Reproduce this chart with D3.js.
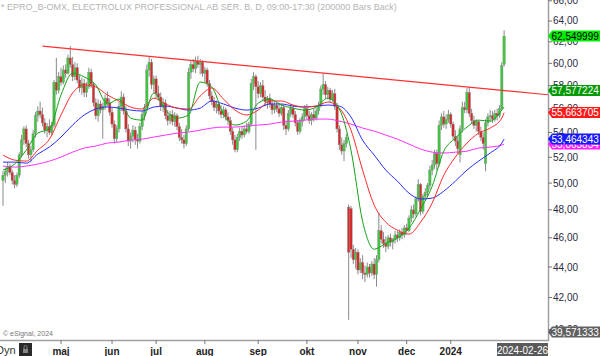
<!DOCTYPE html>
<html><head><meta charset="utf-8">
<script src="https://cdn.jsdelivr.net/npm/d3@7"></script>
<style>
html,body{margin:0;padding:0;background:#fff;}
svg{display:block;font-family:"Liberation Sans",Arial,sans-serif;}
</style></head>
<body>
<svg id="c" width="600" height="356"></svg>
<script>
// ---------------- DATA ----------------
const title = "* EPRO_B-OMX, ELECTROLUX PROFESSIONAL AB SER. B, D, 09:00-17:30 (200000 Bars Back)";
const openV = [50.2,50.6,50.9,51.3,50.8,50.2,49.9,50.6,52.2,53.4,54.3,53.1,52.2,52.6,53.9,55.4,55.8,55.5,54.8,54.2,
54.5,54.0,54.6,58.3,57.6,58.8,58.3,59.4,59.1,60.5,59.9,58.8,59.6,58.5,57.8,58.2,57.4,57.9,59.2,58.1,
56.5,55.4,56.4,55.9,56.2,56.9,56.5,55.7,54.7,53.5,54.3,56.2,57.0,55.8,54.3,53.3,53.7,54.2,53.4,53.3,
54.5,55.5,56.1,59.4,60.1,58.1,58.6,57.3,57.0,56.2,56.5,55.4,55.0,55.5,54.9,55.4,54.5,53.6,53.4,53.1,
54.3,59.2,59.9,59.5,60.2,59.9,60.1,59.1,59.4,58.2,57.1,56.6,56.1,56.4,55.8,55.5,55.9,55.3,55.0,54.1,
53.4,52.6,53.6,54.1,53.8,54.3,54.1,54.7,58.2,58.8,57.9,57.3,58.0,57.0,56.6,56.9,56.4,55.9,56.3,56.0,
55.6,56.1,54.6,54.3,55.6,56.0,55.5,54.8,54.1,54.9,55.3,56.0,55.4,55.0,55.5,55.2,55.8,56.3,57.7,58.1,
57.2,57.6,56.8,57.3,56.2,54.3,53.0,52.5,53.1,48.2,48.1,45.2,44.5,45.0,43.8,44.3,43.6,43.5,44.0,43.6,
44.2,43.5,44.5,46.5,45.9,45.6,45.4,46.0,45.7,45.9,46.2,46.0,46.4,46.2,46.7,46.5,47.4,48.0,47.7,48.8,
49.9,47.9,49.0,49.3,49.8,51.0,51.4,52.3,51.5,54.6,55.3,54.7,55.1,55.5,54.7,53.7,53.3,52.2,54.3,56.1,
55.9,57.4,55.6,55.0,54.6,54.9,54.1,53.6,51.5,54.8,55.3,55.4,55.1,55.6,55.4,56.0,59.9];
const highV = [50.9,51.2,51.6,51.5,51.0,50.6,50.8,52.4,53.8,54.5,54.6,53.4,52.9,54.2,55.7,56.2,56.6,56.1,55.2,54.8,
55.1,54.9,58.5,60.5,59.2,59.6,59.8,59.9,60.8,61.6,60.6,60.1,60.0,58.9,58.7,58.6,58.3,59.6,59.5,58.3,
56.9,56.8,56.7,56.5,57.2,57.5,56.9,56.1,55.0,54.6,56.6,57.5,57.3,56.2,54.7,54.0,54.6,54.5,53.9,54.8,
55.8,56.4,59.9,60.6,60.4,58.9,58.9,58.0,57.4,56.9,56.8,55.9,55.8,55.9,55.7,55.6,54.8,54.3,53.8,54.6,
59.6,60.3,60.4,60.6,60.7,60.4,60.3,59.7,59.6,58.5,57.5,57.0,56.7,56.6,56.3,56.2,56.1,55.7,55.3,54.4,
53.8,53.9,54.4,54.5,54.6,54.8,54.9,58.6,59.2,59.0,58.4,58.3,58.5,57.6,57.1,57.3,56.8,56.6,56.6,56.5,
56.4,56.3,55.0,55.9,56.4,56.3,55.8,55.0,55.2,55.6,56.3,56.4,55.8,55.7,56.0,56.1,56.6,58.0,59.1,58.4,
57.9,57.8,57.6,57.7,56.5,54.6,53.6,53.4,53.9,48.4,48.3,45.5,45.3,45.2,44.6,44.8,44.1,44.3,44.2,44.4,
44.6,44.8,47.8,46.9,46.4,46.1,46.2,46.3,46.0,46.5,46.5,46.6,46.7,46.9,47.0,47.6,48.3,48.4,49.0,50.3,
50.0,49.2,49.6,50.0,51.3,51.8,52.6,52.6,55.0,55.6,55.8,55.5,55.9,55.7,54.9,54.2,53.7,54.6,56.6,56.6,
57.8,57.9,56.0,55.4,55.1,55.0,54.5,54.0,55.1,55.6,55.9,55.8,55.9,56.0,56.3,60.1,63.1];
const lowV = [48.3,50.0,50.5,50.6,49.9,49.6,49.7,50.4,52.0,53.0,52.8,51.9,51.6,52.4,53.6,54.9,55.2,54.5,53.9,53.6,
53.8,53.7,54.4,57.2,57.3,58.0,58.1,58.7,59.0,59.6,58.4,58.5,58.2,57.4,57.2,57.0,57.0,57.7,57.8,56.2,
55.1,54.9,55.6,53.5,55.9,56.2,55.4,54.4,53.1,53.2,54.0,55.8,55.5,54.0,52.9,52.7,53.2,53.0,52.7,53.1,
54.2,55.0,55.9,58.8,57.7,57.4,56.9,56.7,55.8,55.7,55.1,54.6,54.7,54.6,54.5,54.2,53.3,53.1,52.7,52.9,
54.1,58.6,59.2,59.1,59.6,59.0,58.8,58.3,57.9,56.8,56.3,55.8,55.6,55.5,55.2,55.2,55.0,54.6,53.8,53.0,
52.4,52.4,53.3,53.5,53.6,53.9,53.9,54.5,57.6,52.6,56.9,57.0,56.7,56.2,56.0,56.1,55.5,55.6,55.7,55.3,
55.4,54.2,53.8,54.1,55.3,55.2,54.5,53.8,53.9,54.5,55.0,55.1,54.7,54.6,54.9,55.0,55.5,56.1,57.2,56.9,
56.8,56.5,56.6,55.9,54.0,52.6,52.2,51.7,52.8,40.6,44.6,44.2,43.9,43.5,43.6,43.2,43.0,43.3,43.3,43.4,
43.2,42.7,44.3,45.6,45.3,45.0,45.2,45.4,45.2,45.6,45.7,45.8,45.9,46.0,46.3,46.4,47.1,47.4,47.5,48.6,
47.6,47.7,48.7,49.0,49.5,50.6,51.1,51.0,51.3,54.2,54.4,54.3,54.8,54.4,53.4,52.9,52.3,51.6,54.0,55.6,
55.6,55.3,54.7,54.3,54.1,53.8,53.3,52.6,50.9,54.5,54.9,54.8,54.9,55.0,55.2,55.9,59.7];
const closeV = [50.6,50.9,51.3,50.8,50.2,49.9,50.6,52.2,53.4,54.3,53.1,52.2,52.6,53.9,55.4,55.8,55.5,54.8,54.2,54.5,
54.0,54.6,58.3,57.6,58.8,58.3,59.4,59.1,60.5,59.9,58.8,59.6,58.5,57.8,58.2,57.4,57.9,59.2,58.1,56.5,
55.4,56.4,55.9,56.2,56.9,56.5,55.7,54.7,53.5,54.3,56.2,57.0,55.8,54.3,53.3,53.7,54.2,53.4,53.3,54.5,
55.5,56.1,59.4,60.1,58.1,58.6,57.3,57.0,56.2,56.5,55.4,55.0,55.5,54.9,55.4,54.5,53.6,53.4,53.1,54.3,
59.2,59.9,59.5,60.2,59.9,60.1,59.1,59.4,58.2,57.1,56.6,56.1,56.4,55.8,55.5,55.9,55.3,55.0,54.1,53.4,
52.6,53.6,54.1,53.8,54.3,54.1,54.7,58.2,58.8,57.9,57.3,58.0,57.0,56.6,56.9,56.4,55.9,56.3,56.0,55.6,
56.1,54.6,54.3,55.6,56.0,55.5,54.8,54.1,54.9,55.3,56.0,55.4,55.0,55.5,55.2,55.8,56.3,57.7,58.1,57.2,
57.6,56.8,57.3,56.2,54.3,53.0,52.5,53.1,53.6,45.0,45.2,44.5,45.0,43.8,44.3,43.6,43.5,44.0,43.6,44.2,
43.5,44.5,46.5,45.9,45.6,45.4,46.0,45.7,45.9,46.2,46.0,46.4,46.2,46.7,46.5,47.4,48.0,47.7,48.8,49.9,
47.9,49.0,49.3,49.8,51.0,51.4,52.3,51.5,54.6,55.3,54.7,55.1,55.5,54.7,53.7,53.3,52.7,54.3,56.1,55.9,
57.4,55.6,55.0,54.6,54.9,54.1,53.6,53.1,54.8,55.3,55.4,55.1,55.6,55.4,56.0,59.8,62.55];

// moving averages read every 5th bar (plus last bar)
const maGreen = [51.00,51.47,52.57,53.95,54.28,57.18,59.12,58.77,58.06,56.40,56.83,55.20,55.03,57.35,55.88,55.20,55.46,58.32,57.88,55.54,
54.62,54.95,56.48,56.83,56.31,56.05,55.88,56.14,56.91,55.97,52.57,47.18,45.21,45.62,45.97,46.68,48.05,49.76,52.49,53.55,
54.45,55.03,54.95,55.88,56.14];
const maRed = [52.18,51.78,51.70,52.57,53.46,55.46,57.35,58.06,57.88,57.18,56.66,56.14,55.97,56.91,56.40,56.05,55.97,57.09,57.79,56.83,
55.88,55.46,55.88,56.66,56.66,56.31,56.14,56.22,56.57,56.05,54.20,51.00,48.35,47.11,46.54,46.26,47.11,48.50,50.61,52.02,
53.14,53.95,54.37,55.20,55.66];
const maBlue = [51.62,51.62,51.54,52.26,52.82,53.63,54.62,55.46,55.97,56.14,56.05,55.88,55.80,56.14,56.22,56.05,55.88,56.05,56.66,56.40,
56.05,55.88,56.05,56.40,56.40,56.22,56.14,56.22,56.31,56.22,55.29,53.38,52.18,51.00,50.15,49.24,48.80,48.87,49.39,50.15,
51.00,51.70,52.34,53.14,53.46];
const maMagenta = [51.31,51.23,51.31,51.47,51.70,52.02,52.41,52.74,52.90,53.14,53.22,53.38,53.46,53.63,53.79,53.95,54.04,54.20,54.37,54.45,
54.45,54.54,54.62,54.70,54.87,54.95,55.03,55.12,55.12,54.95,54.70,54.37,54.12,53.79,53.46,53.06,52.66,52.41,52.34,52.41,
52.49,52.74,52.82,52.98,53.06];

// resistance trend line: [bar index, price]
const trendIdx = [17, 235];
const trendVal = [61.6, 57.2];

// time axis
const monthIdx = [25, 47, 66, 87, 110, 131, 153, 174, 193];
const monthLabels = ["maj","jun","jul","aug","sep","okt","nov","dec","2024"];
const dateLabel = "2024-02-26";

// price axis
const priceTicks = [40,42,44,46,48,50,52,54,56,58,60,62,64,66];

// right-edge value flags
const flagVals = [62.549999, 57.577224, 55.663705, 53.063834, 53.464343, 39.571333];
const flagText = ["62,549999","57,577224","55,663705","53,063834","53,464343","39,571333"];
const flagBg = ["#00ee00","#009a00","#ff1a1a","#ff22ff","#1a1aff","#606060"];
const flagFg = ["#000","#fff","#fff","#fff","#fff","#fff"];

// ---------------- DRAW ----------------
const W = 600, H = 356, plotR = 548, plotB = 340;
const svg = d3.select("#c");
const x = d3.scaleLinear().domain([0, 216]).range([3, 504.1]);
const y = d3.scaleLog().domain([39.37, 66.08]).range([plotB, 0]);

svg.append("rect").attr("width", W).attr("height", H).attr("fill", "#fff");

svg.append("defs").append("clipPath").attr("id", "pc")
  .append("rect").attr("x", 0).attr("y", 0).attr("width", plotR).attr("height", plotB);

const g = svg.append("g").attr("clip-path", "url(#pc)");

// title
svg.append("text").attr("x", 1).attr("y", 10).attr("font-size", 9).attr("fill", "#b4b4b4")
  .text(title);

// candles
const bars = d3.range(closeV.length).map(i => ({i, o: openV[i], h: highV[i], l: lowV[i], c: closeV[i]}));
g.selectAll("line.wick").data(bars).join("line").attr("class", "wick")
  .attr("x1", d => x(d.i)).attr("x2", d => x(d.i))
  .attr("y1", d => y(d.h)).attr("y2", d => y(d.l))
  .attr("stroke", "#8a8a8a").attr("stroke-width", 1);
g.selectAll("rect.body").data(bars).join("rect").attr("class", "body")
  .attr("x", d => x(d.i) - 1.2).attr("width", 2.4)
  .attr("y", d => y(Math.max(d.o, d.c)))
  .attr("height", d => Math.max(1, Math.abs(y(d.o) - y(d.c))))
  .attr("fill", d => d.c >= d.o ? "#3cc83c" : "#d42a2a")
  .attr("stroke", "#8a8a8a").attr("stroke-width", 0.4);

// moving averages
const maIdx = d3.range(0, 216, 5).concat([216]);
const line = d3.line().x(d => x(d[0])).y(d => y(d[1])).curve(d3.curveMonotoneX);
const mas = [[maMagenta, "#ff30ff"], [maBlue, "#2a2aff"], [maRed, "#ff2a2a"], [maGreen, "#16a016"]];
mas.forEach(([arr, col]) => {
  g.append("path").datum(arr.map((v, k) => [maIdx[k], v]))
    .attr("d", line).attr("fill", "none").attr("stroke", col).attr("stroke-width", 1);
});

// trend line
g.append("line")
  .attr("x1", x(trendIdx[0])).attr("y1", y(trendVal[0]))
  .attr("x2", x(trendIdx[1])).attr("y2", y(trendVal[1]))
  .attr("stroke", "#ff3030").attr("stroke-width", 1.2);

// axes frame
svg.append("line").attr("x1", plotR + 0.5).attr("x2", plotR + 0.5).attr("y1", 0).attr("y2", plotB + 1)
  .attr("stroke", "#a0a0a0").attr("stroke-width", 1.5);
svg.append("line").attr("x1", 0).attr("x2", plotR + 1).attr("y1", plotB + 0.5).attr("y2", plotB + 0.5)
  .attr("stroke", "#a0a0a0").attr("stroke-width", 1.5);

// price ticks
const pt = svg.append("g");
priceTicks.forEach(v => {
  const yy = y(v);
  pt.append("line").attr("x1", plotR).attr("x2", plotR + 4).attr("y1", yy).attr("y2", yy)
    .attr("stroke", "#777").attr("stroke-width", 1);
  pt.append("text").attr("x", plotR + 5).attr("y", yy + 3.5).attr("font-size", 10).attr("fill", "#2a2a40")
    .text(d3.format(".2f")(v).replace(".", ","));
});

// value flags
flagVals.forEach((v, k) => {
  let yy = Math.min(y(v), plotB - 8);
  const h = 5.5;
  svg.append("path")
    .attr("d", `M${plotR},${yy} L${plotR + 4},${yy - h} L${W},${yy - h} L${W},${yy + h} L${plotR + 4},${yy + h} Z`)
    .attr("fill", flagBg[k]);
  svg.append("text").attr("x", plotR + 3.5).attr("y", yy + 3.8).attr("font-size", 10)
    .attr("fill", flagFg[k]).text(flagText[k]);
});

// time axis
monthIdx.forEach((m, k) => {
  const xx = x(m);
  svg.append("line").attr("x1", xx).attr("x2", xx).attr("y1", plotB).attr("y2", plotB + 4)
    .attr("stroke", "#777").attr("stroke-width", 1);
  svg.append("text").attr("x", xx).attr("y", 355).attr("text-anchor", "middle")
    .attr("font-size", 10).attr("font-weight", "bold").attr("fill", "#222").text(monthLabels[k]);
});

// date flag
svg.append("rect").attr("x", 497).attr("y", 343).attr("width", 51).attr("height", 13).attr("fill", "#5a5a5a");
svg.append("text").attr("x", 522.5).attr("y", 354).attr("text-anchor", "middle").attr("font-size", 10)
  .attr("fill", "#fff").text(dateLabel);

// bottom-left bits
svg.append("text").attr("x", 3).attr("y", 336).attr("font-size", 7).attr("fill", "#777").text("© eSignal, 2024");
svg.append("text").attr("x", -4).attr("y", 354).attr("font-size", 11).attr("fill", "#333").text("Dyn");
svg.append("rect").attr("x", 19).attr("y", 343).attr("width", 13).attr("height", 13).attr("fill", "#2a2a2a");
svg.append("rect").attr("x", 23).attr("y", 349).attr("width", 5).attr("height", 4).attr("fill", "#888");
svg.append("path").attr("d", "M24,349 v-2 a1.5,1.5 0 0 1 3,0 v2").attr("fill", "none").attr("stroke", "#888").attr("stroke-width", 1);
</script>
</body></html>
